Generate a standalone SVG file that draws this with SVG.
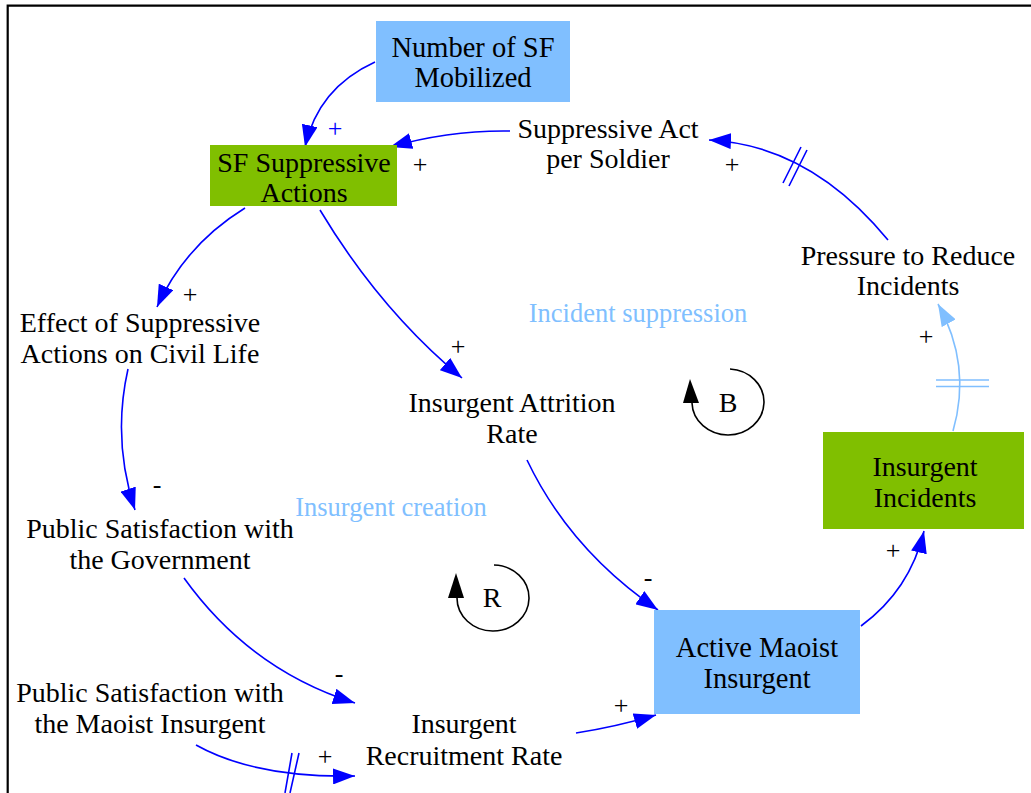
<svg xmlns="http://www.w3.org/2000/svg" width="1031" height="793" viewBox="0 0 1031 793">
<style>
.t{font-family:"Liberation Serif","Times New Roman",serif;font-size:28px;fill:#000;text-anchor:middle}
.b{font-size:28.5px}
.s{font-family:"Liberation Serif","Times New Roman",serif;font-size:26px;fill:#000;text-anchor:middle}
.loop{font-family:"Liberation Serif","Times New Roman",serif;font-size:26.5px;fill:#80BFFF;text-anchor:middle}
.c{fill:none;stroke:#0000FF;stroke-width:1.6}
.cl{fill:none;stroke:#80BFFF;stroke-width:1.6}
.blue{fill:#80BFFF}
.green{fill:#80BF00}
.k{fill:none;stroke:#000;stroke-width:1.6}
</style>
<defs>
<marker id="ab" markerUnits="userSpaceOnUse" viewBox="0 0 22 16" refX="22" refY="8" markerWidth="22" markerHeight="16" orient="auto"><path d="M0,0 L22,8 L0,16 z" fill="#0000FF"/></marker>
<marker id="al" markerUnits="userSpaceOnUse" viewBox="0 0 22 16" refX="22" refY="8" markerWidth="22" markerHeight="16" orient="auto"><path d="M0,0 L22,8 L0,16 z" fill="#80BFFF"/></marker>
</defs>
<rect width="1031" height="793" fill="#fff"/>
<g id="frame"><path d="M7.7,793 V5.6 H1031" fill="none" stroke="#000" stroke-width="2.2"/></g>

<g id="connectors">
<path class="c" d="M375,62 Q318,88 305,147" marker-end="url(#ab)"/>
<path class="c" d="M510,131 Q450,130 390,147" marker-end="url(#ab)"/>
<path class="c" d="M888,240 Q810,145 709,140" marker-end="url(#ab)"/>
<path class="c" d="M783,183 L801,147 M789,186 L807,150"/>
<path class="cl" d="M953,431 Q972,365 938,304" marker-end="url(#al)"/>
<path class="cl" d="M936,380 H989 M936,386.5 H989"/>
<path class="c" d="M245,208 Q185,245 157,307" marker-end="url(#ab)"/>
<path class="c" d="M320,210 Q380,310 462,378" marker-end="url(#ab)"/>
<path class="c" d="M128,369 Q112,440 135,510" marker-end="url(#ab)"/>
<path class="c" d="M527,460 Q570,550 658,610" marker-end="url(#ab)"/>
<path class="c" d="M184,578 Q250,670 355,703" marker-end="url(#ab)"/>
<path class="c" d="M196,745 Q255,778 355,776" marker-end="url(#ab)"/>
<path class="c" d="M285,793 L292,753 M290,793 L299,753"/>
<path class="c" d="M576,733 Q615,727 656,715" marker-end="url(#ab)"/>
<path class="c" d="M861,626 Q910,590 924,531" marker-end="url(#ab)"/>
<text class="s" x="335" y="137" style="fill:#0000FF">+</text>
<text class="s" x="420" y="173">+</text>
<text class="s" x="732" y="173">+</text>
<text class="s" x="926" y="345">+</text>
<text class="s" x="190" y="303">+</text>
<text class="s" x="458" y="355">+</text>
<text class="s" x="157" y="493">-</text>
<text class="s" x="648" y="586">-</text>
<text class="s" x="339" y="682">-</text>
<text class="s" x="325" y="765">+</text>
<text class="s" x="621" y="714">+</text>
<text class="s" x="893" y="559">+</text>
</g>

<g id="loopB">
<path class="k" d="M692,403 A36,33 0 1 0 730,369"/>
<path d="M690,379 L683,403 L699,403 z" fill="#000"/>
<text class="t" x="728" y="412">B</text>
</g>
<g id="loopR">
<path class="k" d="M457,598 A36,33 0 1 0 494,565"/>
<path d="M456,573 L448,598 L464,598 z" fill="#000"/>
<text class="t" x="492" y="607">R</text>
</g>
<g id="loopLabels">
<text class="loop" x="638" y="322">Incident suppression</text>
<text class="loop" x="391" y="516">Insurgent creation</text>
</g>

<g id="n_sf_mobilized">
<rect class="blue" x="376" y="21" width="194" height="81"/>
<text class="t b" x="473" y="57">Number of SF</text>
<text class="t b" x="473" y="87">Mobilized</text>
</g>
<g id="n_sf_suppressive">
<rect class="green" x="210" y="145" width="187" height="61"/>
<text class="t" x="304" y="172">SF Suppressive</text>
<text class="t" x="304" y="202">Actions</text>
</g>
<g id="n_act_per_soldier">
<text class="t" x="608" y="138">Suppressive Act</text>
<text class="t" x="608" y="168">per Soldier</text>
</g>
<g id="n_pressure">
<text class="t" x="908" y="265">Pressure to Reduce</text>
<text class="t" x="908" y="295">Incidents</text>
</g>
<g id="n_incidents">
<rect class="green" x="823" y="432" width="201" height="97"/>
<text class="t" x="925" y="476">Insurgent</text>
<text class="t" x="925" y="507">Incidents</text>
</g>
<g id="n_effect">
<text class="t" x="140" y="332">Effect of Suppressive</text>
<text class="t" x="140" y="363">Actions on Civil Life</text>
</g>
<g id="n_attrition">
<text class="t" x="512" y="412">Insurgent Attrition</text>
<text class="t" x="512" y="443">Rate</text>
</g>
<g id="n_sat_gov">
<text class="t" x="160" y="538">Public Satisfaction with</text>
<text class="t" x="160" y="569">the Government</text>
</g>
<g id="n_sat_maoist">
<text class="t" x="150" y="702">Public Satisfaction with</text>
<text class="t" x="150" y="733">the Maoist Insurgent</text>
</g>
<g id="n_recruitment">
<text class="t" x="464" y="733">Insurgent</text>
<text class="t" x="464" y="765">Recruitment Rate</text>
</g>
<g id="n_active">
<rect class="blue" x="654" y="610" width="206" height="104"/>
<text class="t b" x="757" y="657">Active Maoist</text>
<text class="t b" x="757" y="688">Insurgent</text>
</g>
</svg>
